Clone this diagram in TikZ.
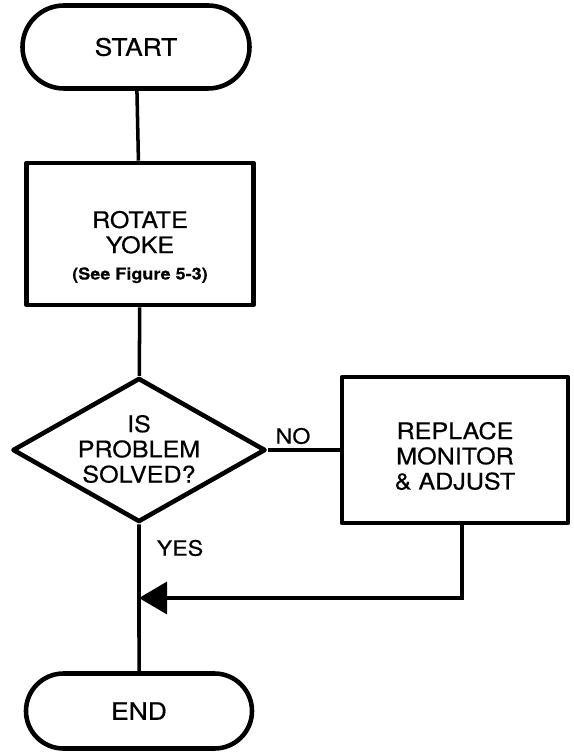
\documentclass[tikz,border=0pt]{standalone}
\usepackage{fontspec}
\setmainfont{TeX Gyre Heros}[FakeStretch=1.1,FakeBold=0.5]
\usepackage{tikz}
\usetikzlibrary{shapes.misc}
\usetikzlibrary{shapes.geometric}
\usetikzlibrary{arrows.meta}

\tikzset{
    flow/.style={line width=3.9pt,line cap=round,line join=round},
    link/.style={line width=3pt},
    body/.style={align=center,font=\fontsize{19.5}{21.5}\selectfont},
    terminal/.style={flow,draw,rounded rectangle,inner sep=0pt,font=\fontsize{20.5}{22}\selectfont},
    process/.style={flow,draw,rectangle,inner sep=0pt},
    decision/.style={flow,draw,diamond,inner sep=0pt},
    branch/.style={font=\fontsize{18}{20}\selectfont}
}

\begin{document}
\begin{tikzpicture}[x=0.3mm,y=-0.3mm]
    \useasboundingbox (0,0) rectangle (574,753);

    \node[terminal,minimum width=68.1mm,minimum height=24.9mm] (start) at (136,47) {START};
    \node[process,minimum width=68.1mm,minimum height=42.6mm,
        label={[body,yshift=-3.9mm]center:ROTATE\\YOKE\\[1pt]{\fontsize{14}{16}\selectfont\bfseries (See Figure 5-3)}}]
        (rotate) at (140,234) {};
    \node[decision,minimum width=75.9mm,minimum height=43.2mm,
        label={[body,yshift=0.3mm]center:IS\\PROBLEM\\SOLVED?}]
        (solved) at (139,450) {};
    \node[process,minimum width=67.8mm,minimum height=43.8mm,
        label={[body,yshift=-1.8mm]center:REPLACE\\MONITOR\\\& ADJUST}]
        (replace) at (455,450) {};
    \node[terminal,minimum width=67.8mm,minimum height=22.5mm] (end) at (139,711) {END};

    \coordinate (turn) at (462,598);

    \node[branch] (no) at (293,436) {NO};
    \node[branch] (yes) at (180,548) {YES};

    \draw[link] (start) -- (rotate);
    \draw[link] (rotate) -- (solved);
    \draw[link] (solved) -- (replace);
    \draw[link] (solved) -- (end);
    \draw[link,-{Triangle[length=8.4mm,width=9.6mm]}] (replace.south -| turn) -- (turn) -- (turn -| solved.south);
\end{tikzpicture}
\end{document}
